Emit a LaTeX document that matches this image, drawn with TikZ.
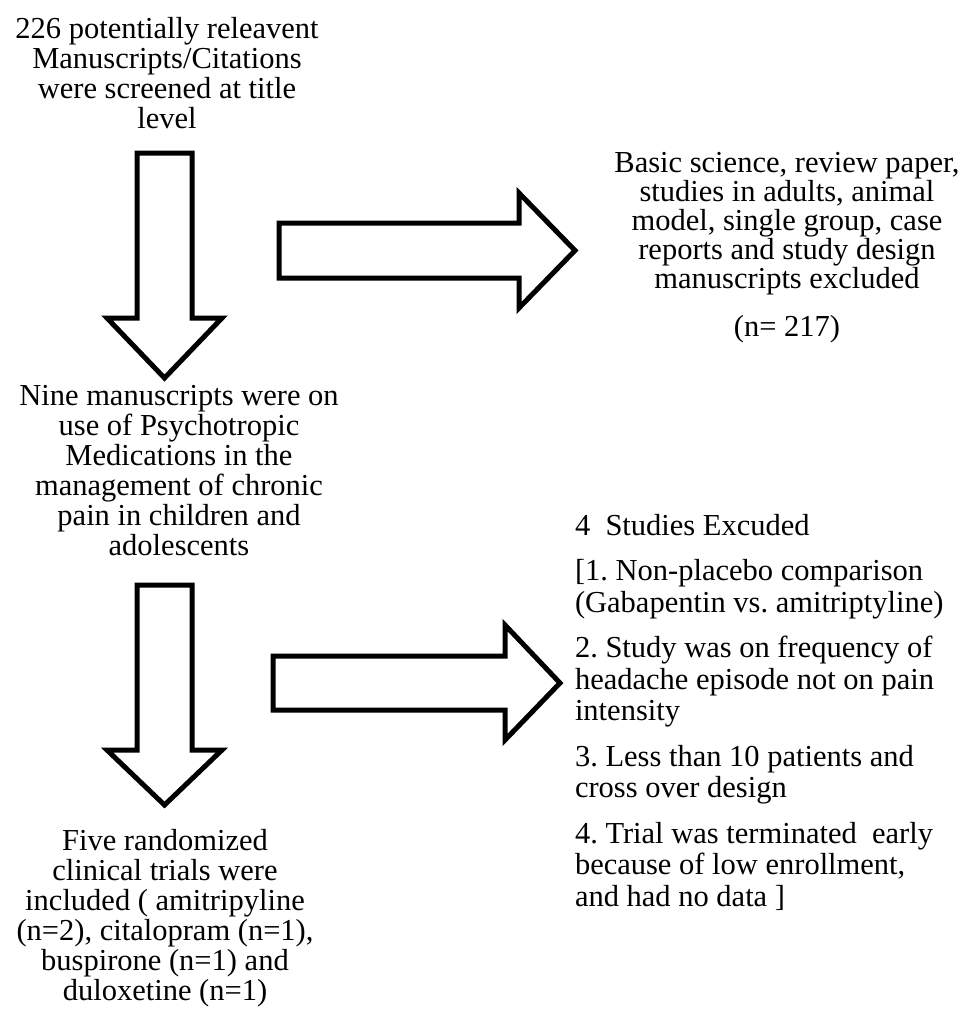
\documentclass[tikz,border=0pt]{standalone}
\usepackage{fontspec}
\setmainfont{Liberation Serif}
\frenchspacing
\begin{document}
\begin{tikzpicture}[x=1pt,y=-1pt,
  txt/.style={inner sep=0pt, outer sep=0pt, align=center, font=\fontsize{30.5}{30}\selectfont},
  blockarrow/.style={draw=black, line width=5pt, fill=white, line join=miter, miter limit=10}]
\useasboundingbox[fill=white] (0,0) rectangle (961,1013);
\newcommand{\firstline}{\rule{0pt}{22pt}}

% down arrows
\draw[blockarrow] (137,153) -- (192,153) -- (192,318) -- (222,318) -- (164.5,378) -- (107,318) -- (137,318) -- cycle;
\draw[blockarrow] (137,585) -- (192,585) -- (192,750) -- (222,750) -- (164.5,805) -- (107,750) -- (137,750) -- cycle;
% right arrows
\draw[blockarrow] (279,223) -- (519,223) -- (519,193) -- (575,250.5) -- (519,308) -- (519,278) -- (279,278) -- cycle;
\draw[blockarrow] (273,656) -- (505,656) -- (505,625) -- (560,683) -- (505,740) -- (505,710) -- (273,710) -- cycle;

\node[txt, anchor=north] (screened) at (167,16)
  {\firstline 226 potentially releavent\\Manuscripts/Citations\\were screened at title\\level};
\node[txt, anchor=north] (nine) at (179,383)
  {\firstline Nine manuscripts were on\\use of Psychotropic\\Medications in the\\management of chronic\\pain in children and\\adolescents};
\node[txt, anchor=north] (five) at (165,828)
  {\firstline Five randomized\\clinical trials were\\included ( amitripyline\\(n=2), citalopram (n=1),\\buspirone (n=1) and\\duloxetine (n=1)};
\node[txt, anchor=north, font=\fontsize{30.5}{29}\selectfont] (basic) at (787,150)
  {\firstline Basic science, review paper,\\studies in adults, animal\\model, single group, case\\reports and study design\\manuscripts excluded\\[19pt](n= 217)};
\node[txt, anchor=north west, align=left, font=\fontsize{30.5}{31.5}\selectfont] (four) at (575,513)
  {\firstline 4\ \ Studies Excuded\\[14pt]
   [1. Non-placebo comparison\\(Gabapentin vs. amitriptyline)\\[14pt]
   2. Study was on frequency of\\headache episode not on pain\\intensity\\[14pt]
   3. Less than 10 patients and\\cross over design\\[14pt]
   4. Trial was terminated\ \ early\\because of low enrollment,\\and had no data ]};
\end{tikzpicture}
\end{document}
